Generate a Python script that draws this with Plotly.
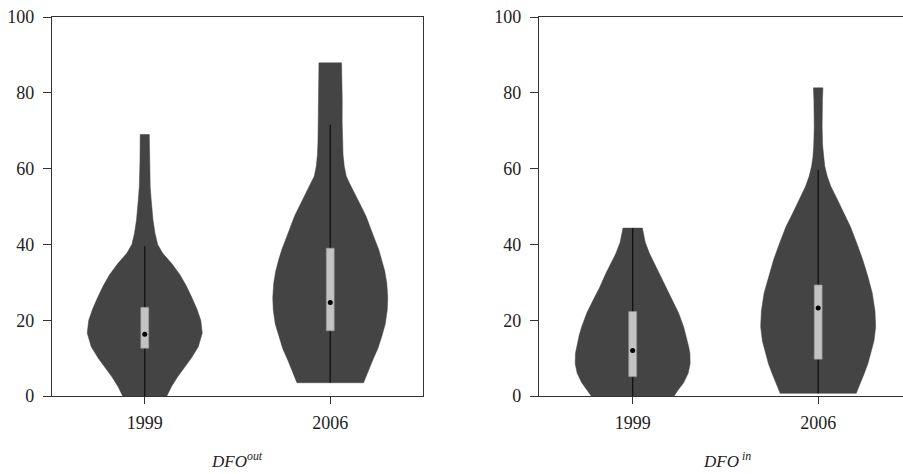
import plotly.graph_objects as go

# ---------------- data ----------------
YEARS = ["1999", "2006"]
PANEL_TITLES = ["<i>DFO</i><sup><i>out</i></sup>", "<i>DFO</i><sup><i> in</i></sup>"]

# density profiles (relative units) at value levels
OUT_1999_Y = [-0.3, 2.5, 5, 7.5, 10, 13, 16.6, 20, 23, 26, 29, 32, 35, 37.7, 40, 43, 46.5, 51.8, 55.3, 62, 69]
OUT_1999_D = [21.7, 27, 33, 40, 47, 54, 58, 56.5, 52.5, 47.5, 42, 35.5, 27, 18, 13, 10.3, 8.3, 6.5, 5.5, 4.8, 4.6]

OUT_2006_Y = [3.5, 6, 9.5, 12.5, 15.7, 19, 22.7, 26, 29.8, 33, 36, 38.6, 42, 45, 47.4, 50, 53, 56, 58, 60.6, 63.7, 67, 72.5, 78, 84, 87.9]
OUT_2006_D = [33.3, 37, 42.5, 47.5, 51.5, 55, 57, 57.5, 56.5, 54.5, 51.5, 48.5, 43.5, 39, 35.8, 31, 25.5, 19.5, 16, 14, 12.8, 12.3, 11.9, 12, 11.8, 11.3]

IN_1999_Y = [0, 1.6, 3.5, 6, 8.6, 11.3, 13, 16, 18.3, 21.9, 25.4, 28.5, 32.4, 35, 37.7, 40.5, 44.3]
IN_1999_D = [41, 45, 50.5, 55, 57, 56.7, 55.5, 53, 50.5, 45.5, 39, 33, 26.5, 21.5, 16.5, 12.5, 9.6]

IN_2006_Y = [0.7, 3.5, 6, 8.5, 11.3, 14.5, 18.3, 22.5, 27.2, 31.5, 35.9, 40, 44.7, 48, 51.8, 55.3, 57.9, 60.6, 63, 66, 71, 75, 78, 81.3]
IN_2006_D = [37.5, 42, 45.5, 49, 52, 55, 56.7, 56, 53.3, 49, 44, 38.5, 31.7, 25.5, 19, 12.5, 9, 6.5, 5.2, 4.4, 3.9, 3.8, 4.2, 4.7]

# box statistics: lower whisker, q1, median, q3, upper whisker
OUT_WLO = [0, 3.5]
OUT_Q1 = [12.6, 17.2]
OUT_MED = [16.3, 24.7]
OUT_Q3 = [23.4, 39.0]
OUT_WHI = [39.5, 71.6]

IN_WLO = [0, 0.7]
IN_Q1 = [5.1, 9.7]
IN_MED = [12.0, 23.2]
IN_Q3 = [22.3, 29.3]
IN_WHI = [44.3, 59.7]

Y_TICKS = [0, 20, 40, 60, 80, 100]

# ---------------- style ----------------
VIOLIN_COLOR = "#444444"
BOX_COLOR = "#c3c3c3"
AXIS_COLOR = "#333333"
FONT = "Liberation Serif"
HALF_WIDTH = 0.31
BOX_HALF = 0.0215

panels = [
    dict(profiles=[(OUT_1999_Y, OUT_1999_D), (OUT_2006_Y, OUT_2006_D)],
         wlo=OUT_WLO, q1=OUT_Q1, med=OUT_MED, q3=OUT_Q3, whi=OUT_WHI),
    dict(profiles=[(IN_1999_Y, IN_1999_D), (IN_2006_Y, IN_2006_D)],
         wlo=IN_WLO, q1=IN_Q1, med=IN_MED, q3=IN_Q3, whi=IN_WHI),
]

fig = go.Figure()
for p, panel in enumerate(panels):
    xa = "x" if p == 0 else "x2"
    ya = "y" if p == 0 else "y2"
    for i, (ys, ds) in enumerate(panel["profiles"]):
        m = max(ds)
        hw = [d / m * HALF_WIDTH for d in ds]
        xs = [i - w for w in hw] + [i + w for w in reversed(hw)]
        yy = list(ys) + list(reversed(ys))
        xs.append(xs[0]); yy.append(yy[0])
        fig.add_trace(go.Scatter(x=xs, y=yy, mode="lines", fill="toself",
                                 fillcolor=VIOLIN_COLOR,
                                 line=dict(color=VIOLIN_COLOR, width=0.5),
                                 xaxis=xa, yaxis=ya, hoverinfo="skip", showlegend=False))
        # whisker
        fig.add_trace(go.Scatter(x=[i, i], y=[panel["wlo"][i], panel["whi"][i]], mode="lines",
                                 line=dict(color="#111111", width=1.3),
                                 xaxis=xa, yaxis=ya, hoverinfo="skip", showlegend=False))
        # box (interquartile range)
        q1, q3 = panel["q1"][i], panel["q3"][i]
        fig.add_trace(go.Scatter(x=[i - BOX_HALF, i + BOX_HALF, i + BOX_HALF, i - BOX_HALF, i - BOX_HALF],
                                 y=[q1, q1, q3, q3, q1], mode="lines", fill="toself",
                                 fillcolor=BOX_COLOR, line=dict(color="#8f8f8f", width=0.6),
                                 xaxis=xa, yaxis=ya, hoverinfo="skip", showlegend=False))
    fig.add_trace(go.Scatter(x=[0, 1], y=panel["med"], mode="markers",
                             marker=dict(color="black", size=5),
                             xaxis=xa, yaxis=ya, hoverinfo="skip", showlegend=False))

W, H = 903, 474
L1, R1 = 52, 423
L2, R2 = 539, 903
TOP, BOT = 17, 396

axis_common = dict(showgrid=False, zeroline=False, showline=True, linecolor=AXIS_COLOR, linewidth=1.2,
                   ticks="outside", tickcolor=AXIS_COLOR, tickwidth=1.2,
                   tickfont=dict(family=FONT, size=18, color="#222222"))

fig.update_layout(
    width=W, height=H, margin=dict(l=0, r=0, t=TOP, b=H - BOT),
    paper_bgcolor="white", plot_bgcolor="white",
    xaxis=dict(domain=[L1 / W, R1 / W], range=[-0.5, 1.5], tickvals=[0, 1], ticktext=YEARS,
               mirror=True, ticklen=7, anchor="y", ticklabelstandoff=3, **axis_common),
    yaxis=dict(domain=[0, 1], range=[0, 100], tickvals=Y_TICKS, mirror=True, ticklen=8,
               anchor="x", ticklabelstandoff=5, **axis_common),
    xaxis2=dict(domain=[L2 / W, R2 / W], range=[-0.505, -0.505 + (R2 - L2) / 185.5], tickvals=[0, 1],
                ticktext=YEARS, mirror=True, ticklen=7, anchor="y2", ticklabelstandoff=3, **axis_common),
    yaxis2=dict(domain=[0, 1], range=[0, 100], tickvals=Y_TICKS, mirror=False, ticklen=8,
                anchor="x2", ticklabelstandoff=5, **axis_common),
    annotations=[
        dict(text=PANEL_TITLES[0], x=237 / W, y=(BOT - 473) / (BOT - TOP), xref="paper", yref="paper",
             showarrow=False, xanchor="center", yanchor="bottom",
             font=dict(family=FONT, size=17, color="#222222")),
        dict(text=PANEL_TITLES[1], x=727 / W, y=(BOT - 473) / (BOT - TOP), xref="paper", yref="paper",
             showarrow=False, xanchor="center", yanchor="bottom",
             font=dict(family=FONT, size=17, color="#222222")),
    ],
)

fig.write_html("out.html")
